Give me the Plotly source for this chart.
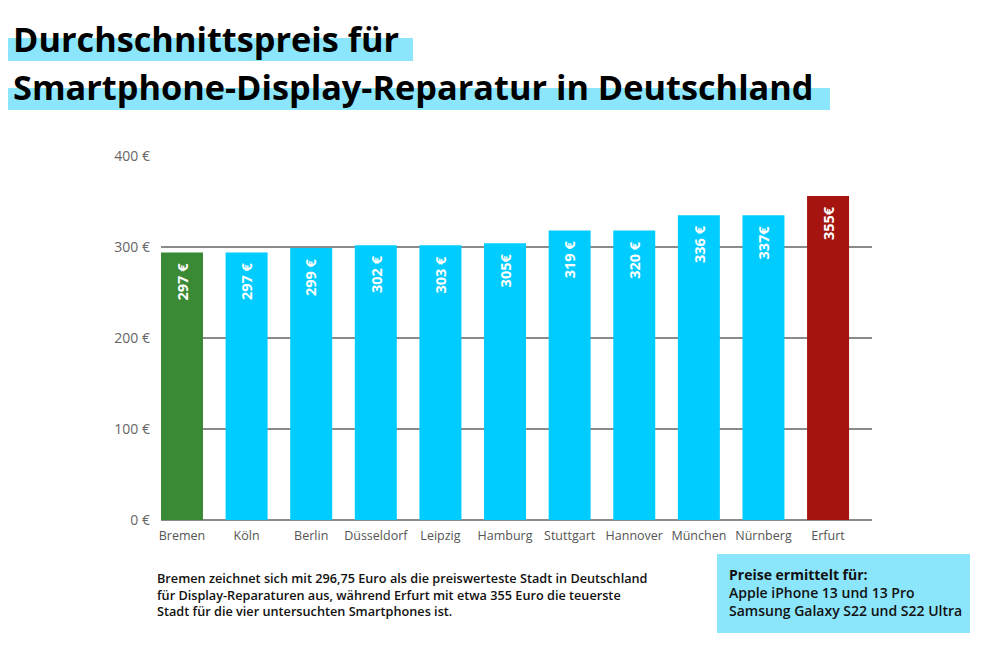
import plotly.graph_objects as go

cities = ["Bremen", "Köln", "Berlin", "Düsseldorf", "Leipzig", "Hamburg",
          "Stuttgart", "Hannover", "München", "Nürnberg", "Erfurt"]
prices = [294, 294, 299, 302, 302, 304, 318, 318, 335, 335, 356]
bar_labels = ["297 €", "297 €", "299 €", "302 €", "303 €", "305€",
              "319 €", "320 €", "336 €", "337€", "355€"]
y_ticks = [0, 100, 200, 300, 400]
y_tick_labels = ["0 €", "100 €", "200 €", "300 €", "400 €"]

colors = ["#3a8934"] + ["#00ccff"] * 9 + ["#a5140e"]

OFF = 8  # page body margin
W, H = 992 - OFF, 658 - OFF
L, R, T, B = 161, 872, 156, 520  # plot area in screenshot pixels


def px(x):
    return (x - L) / (R - L)


def py(y):
    return (B - y) / (B - T)


fig = go.Figure(go.Bar(
    x=list(range(len(cities))), y=prices, width=0.65,
    marker=dict(color=colors, line=dict(width=0)),
    hoverinfo="x+y",
))

fig.update_layout(
    width=W, height=H,
    margin=dict(l=L - OFF, r=992 - R, t=T - OFF, b=658 - B),
    paper_bgcolor="white", plot_bgcolor="white",
    showlegend=False,
    font=dict(family="Open Sans", color="#555555"),
    xaxis=dict(range=[-0.325, 10.68], tickvals=list(range(len(cities))),
               ticktext=cities, showgrid=False, zeroline=False,
               showline=False, ticks="", tickfont=dict(size=12.5, color="#555555"),
               ticklabelstandoff=6),
    yaxis=dict(range=[0, 400], tickvals=y_ticks, ticktext=y_tick_labels,
               showgrid=True, gridcolor="#8a8a8a", gridwidth=1.5,
               zeroline=True, zerolinecolor="#8a8a8a", zerolinewidth=1.5,
               showline=False, ticks="", tickfont=dict(size=14, color="#666666"),
               ticklabelstandoff=10, layer="below traces"),
)

shapes = [
    dict(type="rect", xref="paper", yref="paper",
         x0=px(0), x1=px(413), y0=py(61), y1=py(38),
         fillcolor="#8be5fb", line=dict(width=0), layer="below"),
    dict(type="rect", xref="paper", yref="paper",
         x0=px(0), x1=px(830), y0=py(110), y1=py(88),
         fillcolor="#8be5fb", line=dict(width=0), layer="below"),
    dict(type="rect", xref="paper", yref="paper",
         x0=px(717), x1=px(970), y0=py(633), y1=py(554),
         fillcolor="#8be5fb", line=dict(width=0), layer="below"),
]
fig.update_layout(shapes=shapes)

annotations = [
    dict(text=lab, x=i, y=v, xref="x", yref="y", xanchor="center", yanchor="top",
         yshift=-8, textangle=-90, showarrow=False,
         font=dict(family="Open Sans", size=14.5, color="white", weight="bold"))
    for i, (v, lab) in enumerate(zip(prices, bar_labels))
]

annotations += [
    dict(text="Durchschnittspreis für", x=px(11), y=py(38), xref="paper", yref="paper",
         xanchor="left", yanchor="middle", showarrow=False,
         font=dict(family="Open Sans", size=34.3, color="black", weight="bold")),
    dict(text="Smartphone-Display-Reparatur in Deutschland", x=px(11), y=py(86),
         xref="paper", yref="paper", xanchor="left", yanchor="middle", showarrow=False,
         font=dict(family="Open Sans", size=34.3, color="black", weight="bold")),
    dict(text="Bremen zeichnet sich mit 296,75 Euro als die preiswerteste Stadt in Deutschland<br>"
              "für Display-Reparaturen aus, während Erfurt mit etwa 355 Euro die teuerste<br>"
              "Stadt für die vier untersuchten Smartphones ist.",
         x=px(155), y=py(567), xref="paper", yref="paper", xanchor="left", yanchor="top",
         align="left", showarrow=False,
         font=dict(family="Open Sans", size=12.7, color="#111111", weight=600)),
    dict(text="<b>Preise ermittelt für:</b><br>Apple iPhone 13 und 13 Pro<br>"
              "Samsung Galaxy S22 und S22 Ultra",
         x=px(727), y=py(563), xref="paper", yref="paper", xanchor="left", yanchor="top",
         align="left", showarrow=False,
         font=dict(family="Open Sans", size=14, color="#111111", weight=600)),
]
fig.update_layout(annotations=annotations)

fig.write_html("out.html")
